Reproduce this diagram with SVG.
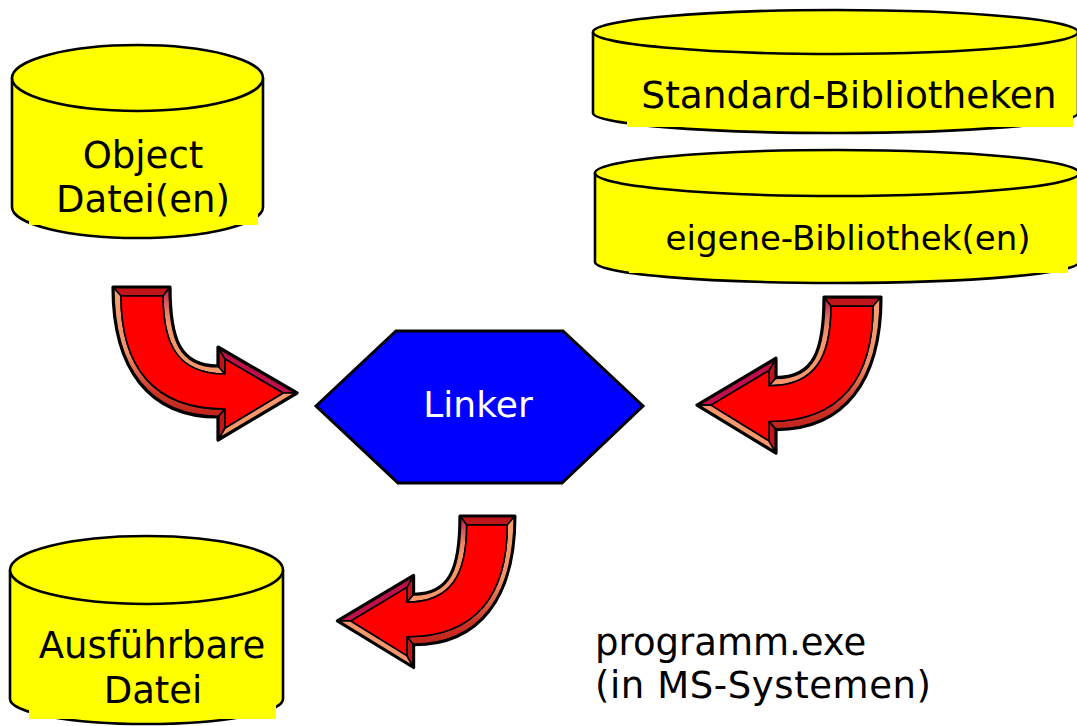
<svg xmlns="http://www.w3.org/2000/svg" xmlns:xlink="http://www.w3.org/1999/xlink" width="1077" height="726" viewBox="0 0 1077 726">
  <style>
    .cyl { fill: #FFFF00; stroke: #000; stroke-width: 2.6; stroke-linejoin: round; }
    .lbl { fill: #FFFF00; stroke: none; }
    .txt { font-family: "DejaVu Sans", Verdana, sans-serif; font-size: 37px; fill: #000; text-anchor: middle; }
    .hex { fill: #0000FF; stroke: #000; stroke-width: 3; stroke-linejoin: miter; }
    .strip { stroke: #000; stroke-width: 1.6; stroke-linejoin: round; }
    .face { fill: #FF0000; stroke: #000; stroke-width: 1.6; stroke-linejoin: round; }
    .rim { fill: none; stroke: #000; stroke-width: 3.2; stroke-linejoin: round; }
  </style>
  <defs>
    <linearGradient id="outerBevel" x1="0" y1="0" x2="0" y2="1">
      <stop offset="0" stop-color="#F7A070"/>
      <stop offset="0.5" stop-color="#F2906A"/>
      <stop offset="0.82" stop-color="#CC3426"/>
      <stop offset="1" stop-color="#C2221C"/>
    </linearGradient>
    <linearGradient id="innerBevel" x1="0" y1="0" x2="0" y2="1">
      <stop offset="0" stop-color="#C0184A"/>
      <stop offset="0.28" stop-color="#E57C66"/>
      <stop offset="0.45" stop-color="#F7956B"/>
      <stop offset="1" stop-color="#F7956B"/>
    </linearGradient>
    <!-- bent block arrow with bevelled edges -->
    <g id="bentArrow">
      <path class="strip" fill="#C0161B" d="M113,287 L170,287 L163,296 L121,296 Z"/>
      <path class="strip" fill="url(#outerBevel)" d="M113,287 L121,296 C121,365 152,409 225,409 L218,417 C150,417 113,370 113,287 Z"/>
      <path class="strip" fill="url(#innerBevel)" d="M170,287 C170,340 180,366 218,366 L225,374 C178,374 163,345 163,296 Z"/>
      <path class="strip" fill="#C0161B" d="M218,366 L218,347 L225,359 L225,374 Z"/>
      <path class="strip" fill="#C0104A" d="M218,347 L297,393 L283,393 L225,359 Z"/>
      <path class="strip" fill="#F7956B" d="M297,393 L218,440 L225,428 L283,393 Z"/>
      <path class="strip" fill="#C0161B" d="M218,440 L218,417 L225,409 L225,428 Z"/>
      <path class="face" d="M121,296 L163,296 C163,345 178,374 225,374 L225,359 L283,393 L225,428 L225,409 C152,409 121,365 121,296 Z"/>
      <path class="rim" d="M113,287 L170,287 C170,340 180,366 218,366 L218,347 L297,393 L218,440 L218,417 C150,417 113,370 113,287 Z"/>
    </g>
  </defs>

  <!-- data stores -->
  <g id="object-files">
    <path class="cyl" d="M12,78 L12,207 A125.5,31 0 0 0 263,207 L263,78"/>
    <ellipse class="cyl" cx="137.5" cy="78" rx="125.5" ry="33"/>
    <rect class="lbl" x="29" y="130" width="229" height="95"/>
    <text class="txt" x="143" y="168">Object</text>
    <text class="txt" x="143" y="212">Datei(en)</text>
  </g>

  <g id="standard-libs">
    <path class="cyl" d="M593,32 L593,113 A242.5,20 0 0 0 1078,113 L1078,32"/>
    <ellipse class="cyl" cx="835.5" cy="32" rx="242.5" ry="22"/>
    <rect class="lbl" x="627" y="62" width="446" height="65"/>
    <text class="txt" x="849" y="108" style="font-size:37.5px">Standard-Bibliotheken</text>
  </g>

  <g id="own-libs">
    <path class="cyl" d="M595,173 L595,262 A242,21 0 0 0 1079,262 L1079,173"/>
    <ellipse class="cyl" cx="837" cy="173" rx="242" ry="23"/>
    <rect class="lbl" x="629" y="205" width="439" height="68"/>
    <text class="txt" x="848" y="250" style="font-size:34px">eigene-Bibliothek(en)</text>
  </g>

  <g id="executable">
    <path class="cyl" d="M10,570 L10,699 A136.5,25 0 0 0 283,699 L283,570"/>
    <ellipse class="cyl" cx="146.5" cy="570" rx="136.5" ry="34"/>
    <rect class="lbl" x="29" y="615" width="247" height="104"/>
    <text class="txt" x="152" y="658">Ausführbare</text>
    <text class="txt" x="153" y="703">Datei</text>
  </g>

  <!-- linker step -->
  <g id="linker">
    <polygon class="hex" points="316,406 396,331 563,331 643,406 562,483 398,483"/>
    <text class="txt" x="478" y="417" style="fill:#FFFFFF;font-size:36px">Linker</text>
  </g>

  <!-- flow arrows -->
  <g id="connectors">
    <use xlink:href="#bentArrow"/>
    <use xlink:href="#bentArrow" transform="matrix(-1 0 0 1.02 994 4.3)"/>
    <use xlink:href="#bentArrow" transform="matrix(-0.965 0 0 0.99 624 231.9)"/>
  </g>

  <g id="note">
    <text class="txt" x="595" y="655" style="text-anchor:start">programm.exe</text>
    <text class="txt" x="595" y="698" style="text-anchor:start" textLength="336" lengthAdjust="spacing">(in MS-Systemen)</text>
  </g>
</svg>
